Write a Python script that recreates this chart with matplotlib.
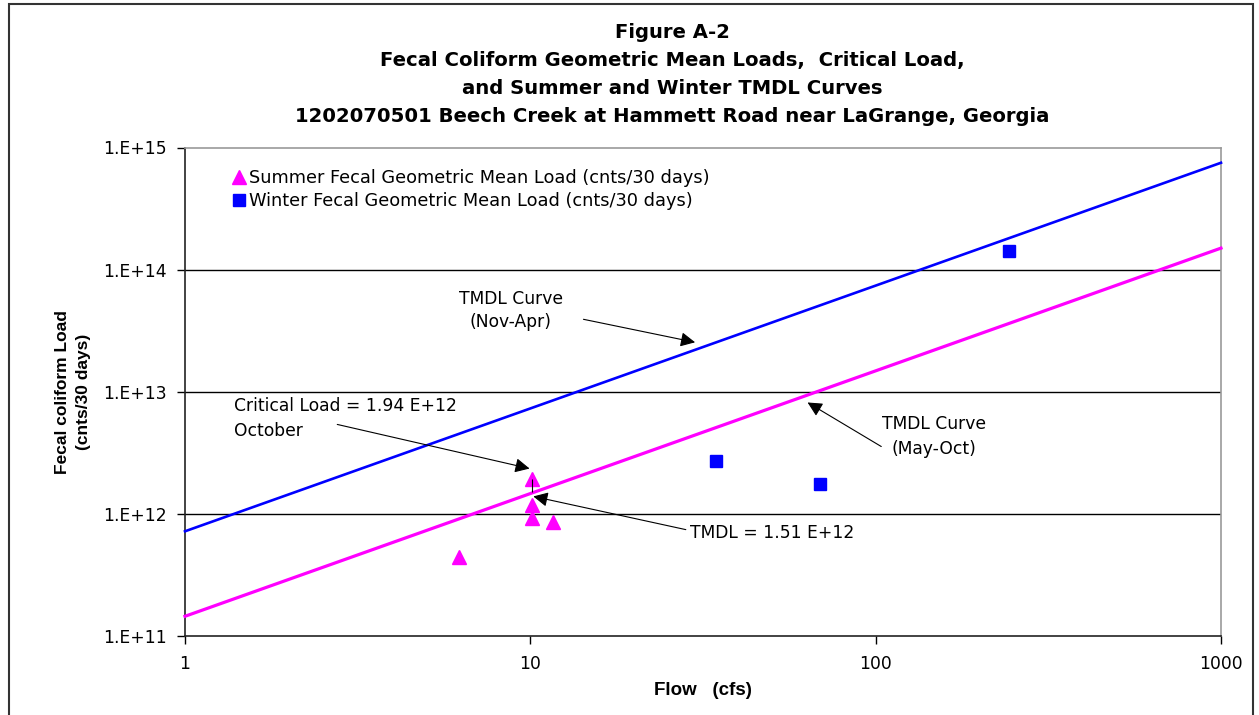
import numpy as np
import matplotlib
matplotlib.use("Agg")
from matplotlib import pyplot as plt
from matplotlib.patches import Rectangle

plt.rcParams["font.family"] = ["DejaVu Sans"]
NARROW = ["Liberation Sans", "DejaVu Sans"]

# TMDL curves (flow cfs, load cnts/30 days), read at the axis ends
curve_flow = [1, 1000]
winter_tmdl = [7.2e11, 7.5e14]
summer_tmdl = [1.45e11, 1.5e14]

# geometric mean loads
summer_flow = [10.1, 10.1, 10.1, 11.6, 6.2]
summer_load = [1.94e12, 1.19e12, 9.3e11, 8.5e11, 4.4e11]
winter_flow = [34.5, 68.8, 244]
winter_load = [2.73e12, 1.74e12, 1.41e14]

critical_flow = 10.1
critical_load = 1.94e12
tmdl_load = 1.51e12

x_ticks = [1, 10, 100, 1000]
x_tick_labels = ["1", "10", "100", "1000"]
y_ticks = [1e11, 1e12, 1e13, 1e14, 1e15]
y_tick_labels = ["1.E+11", "1.E+12", "1.E+13", "1.E+14", "1.E+15"]

MAGENTA = "#ff00ff"
BLUE = "#0000ff"
FS = 12.3

fig = plt.figure(figsize=(12.59, 7.15), dpi=100)
fig.patches.append(Rectangle((9 / 1259, -0.01), 1244 / 1259, 1 - 4 / 715 + 0.01,
                             transform=fig.transFigure, fill=False,
                             edgecolor="#333333", lw=1.5))
ax = fig.add_axes([185 / 1259, 1 - 636 / 715, 1036 / 1259, 488.5 / 715])
ax.set_xscale("log")
ax.set_yscale("log")
ax.set_xlim(1, 1000)
ax.set_ylim(1e11, 1e15)

for y in y_ticks[1:-1]:
    ax.axhline(y, color="black", lw=1.0, zorder=1)

ax.plot(curve_flow, winter_tmdl, color=BLUE, lw=1.9, zorder=3, clip_on=False)
ax.plot(curve_flow, summer_tmdl, color=MAGENTA, lw=2.3, zorder=3, clip_on=False)
ax.plot(summer_flow, summer_load, linestyle="none", marker="^", markersize=9.5,
        color=MAGENTA, zorder=4,
        label="Summer Fecal Geometric Mean Load (cnts/30 days)")
ax.plot(winter_flow, winter_load, linestyle="none", marker="s", markersize=8,
        color=BLUE, zorder=4,
        label="Winter Fecal Geometric Mean Load (cnts/30 days)")
ax.vlines(critical_flow, tmdl_load, critical_load, color="black", lw=0.8, zorder=5)

ax.set_xticks(x_ticks)
ax.set_xticklabels(x_tick_labels)
ax.set_yticks(y_ticks)
ax.set_yticklabels(y_tick_labels)
ax.minorticks_off()
ax.tick_params(axis="both", direction="out", length=6, width=1, labelsize=FS)
ax.tick_params(axis="y", pad=7)
ax.tick_params(axis="x", pad=8)

for side in ["left", "bottom"]:
    ax.spines[side].set_color("#222222")
    ax.spines[side].set_linewidth(1.2)
for side in ["top", "right"]:
    ax.spines[side].set_color("#999999")
    ax.spines[side].set_linewidth(1.2)

ax.set_xlabel("Flow   (cfs)", fontsize=13.5, fontweight="bold", family=NARROW,
              labelpad=6)
ax.set_ylabel("Fecal coliform Load\n(cnts/30 days)", fontsize=12.5,
              fontweight="bold", family=NARROW, labelpad=9, linespacing=1.5)

title_lines = [
    "Figure A-2",
    "Fecal Coliform Geometric Mean Loads,  Critical Load,",
    "and Summer and Winter TMDL Curves",
    "1202070501 Beech Creek at Hammett Road near LaGrange, Georgia",
]
for i, line in enumerate(title_lines):
    fig.text(672 / 1259, 1 - (33 + 27.7 * i) / 715, line, ha="center",
             va="center", fontsize=14.1, fontweight="bold")

leg = ax.legend(loc="upper left", bbox_to_anchor=(0.044, 0.955), frameon=False,
                fontsize=12.8, handletextpad=0.05, handlelength=1.0,
                labelspacing=0.28, borderaxespad=0, borderpad=0)

arrow = dict(arrowstyle="-|>", color="black", lw=0.8, mutation_scale=22,
             shrinkA=0, shrinkB=0)

ax.text(8.78, 4.64e13, "TMDL Curve\n(Nov-Apr)", ha="center", va="center",
        fontsize=FS, linespacing=1.4)
ax.annotate("", xy=(30.0, 2.54e13), xytext=(14.25, 3.92e13), arrowprops=arrow)

ax.text(1.384, 6.04e12, "Critical Load = 1.94 E+12\nOctober", ha="left",
        va="center", fontsize=FS, linespacing=1.5)
ax.annotate("", xy=(9.95, 2.35e12), xytext=(2.76, 5.4e12), arrowprops=arrow)

ax.text(29.0, 7.03e11, "TMDL = 1.51 E+12", ha="left", va="center", fontsize=FS)
ax.annotate("", xy=(10.2, 1.39e12), xytext=(28.2, 7.43e11), arrowprops=arrow)

ax.text(147.6, 4.3e12, "TMDL Curve\n(May-Oct)", ha="center", va="center",
        fontsize=FS, linespacing=1.45)
ax.annotate("", xy=(63.5, 8.17e12), xytext=(103.8, 3.56e12), arrowprops=arrow)

fig.savefig("out.png", dpi=100)
